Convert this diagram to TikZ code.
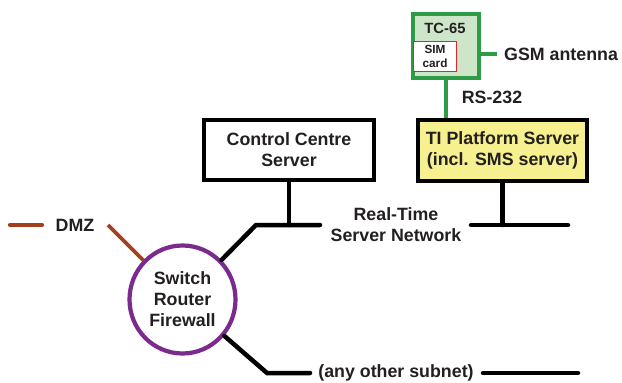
\documentclass[tikz,border=0pt]{standalone}
\usepackage{fontspec}
\setmainfont{Liberation Sans}
\usetikzlibrary{shapes.geometric}
\definecolor{txt}{HTML}{231F20}
\definecolor{gsmgreen}{HTML}{2E9B46}
\definecolor{lightgreen}{HTML}{CDE6C9}
\definecolor{tiyellow}{HTML}{F6F18E}
\definecolor{rpurple}{HTML}{7B2A8E}
\definecolor{dmzbrown}{HTML}{A3401C}
\definecolor{simred}{HTML}{E3242B}
\tikzset{
  lbl/.style={text=txt, font=\fontsize{17.8}{21}\selectfont\bfseries, align=center, inner sep=0pt},
  serverbox/.style={draw=black, line width=4.5pt, align=center, text=txt,
     font=\fontsize{17.8}{21}\selectfont\bfseries, inner sep=0pt},
  netline/.style={draw=black, line width=4.5pt, line cap=round, line join=miter},
}
\begin{document}
\begin{tikzpicture}[x=1pt,y=-1pt]
\useasboundingbox (0,0) rectangle (622,383);
% TC-65 modem
\node[draw=gsmgreen, fill=lightgreen, line width=4.2pt, minimum width=66pt, minimum height=64pt, inner sep=0pt] (tc) at (446,46) {};
\node[lbl, font=\fontsize{14.8}{17}\selectfont\bfseries] (tclbl) at (445,28) {TC-65};
\node[draw=simred, fill=white, line width=1.6pt, minimum width=43pt, minimum height=30pt, inner sep=0pt, align=center, text=txt, font=\fontsize{11.8}{14}\selectfont\bfseries] (sim) at (435,56.5) {SIM\\card};
% GSM antenna
\coordinate (gsmend) at (497,54);
\draw[draw=gsmgreen, line width=4.2pt] (tc.east |- gsmend) -- (gsmend);
\node[lbl, anchor=west] (gsm) at (504,54) {GSM antenna};
% servers
\node[serverbox, fill=tiyellow, minimum width=169pt, minimum height=61pt] (ti) at (502.5,150.5) {TI Platform Server\\(incl. SMS server)};
\node[serverbox, fill=white, minimum width=170pt, minimum height=60pt] (cc) at (289,150) {Control Centre\\Server};
% RS-232
\draw[draw=gsmgreen, line width=4.2pt] (tc.south) -- (tc.south |- ti.north);
\node[lbl] (rs) at (492,97) {RS-232};
% router
\node[draw=rpurple, line width=4.2pt, ellipse, minimum width=106pt, minimum height=108pt, inner sep=0pt, align=center, text=txt, font=\fontsize{17.8}{21}\selectfont\bfseries] (router) at (182.5,299.5) {Switch\\Router\\Firewall};
% real-time network
\coordinate (n1) at (256,225);
\coordinate (n2) at (320,225);
\coordinate (n3) at (471,225);
\coordinate (n4) at (568,225);
\node[lbl] (rtn) at (396,224.5) {Real-Time\\Server Network};
\draw[netline] (router) -- (n1) -- (n2);
\draw[netline] (n3) -- (n4);
\draw[netline] (cc.south) -- (cc.south |- n1);
\draw[netline] (ti.south) -- (ti.south |- n3);
% other subnet
\coordinate (s1) at (267,373);
\coordinate (s2) at (310,373);
\coordinate (s3) at (483,373);
\coordinate (s4) at (578,373);
\node[lbl] (sub) at (396,373) {(any other subnet)};
\draw[netline] (router) -- (s1) -- (s2);
\draw[netline] (s3) -- (s4);
% DMZ
\coordinate (d1) at (10,225);
\coordinate (d2) at (42,225);
\coordinate (d3) at (108,225);
\node[lbl] (dmz) at (75,225) {DMZ};
\draw[draw=dmzbrown, line width=4.2pt, line cap=round] (d1) -- (d2);
\draw[draw=dmzbrown, line width=3.8pt] (router) -- (d3);
\end{tikzpicture}
\end{document}
